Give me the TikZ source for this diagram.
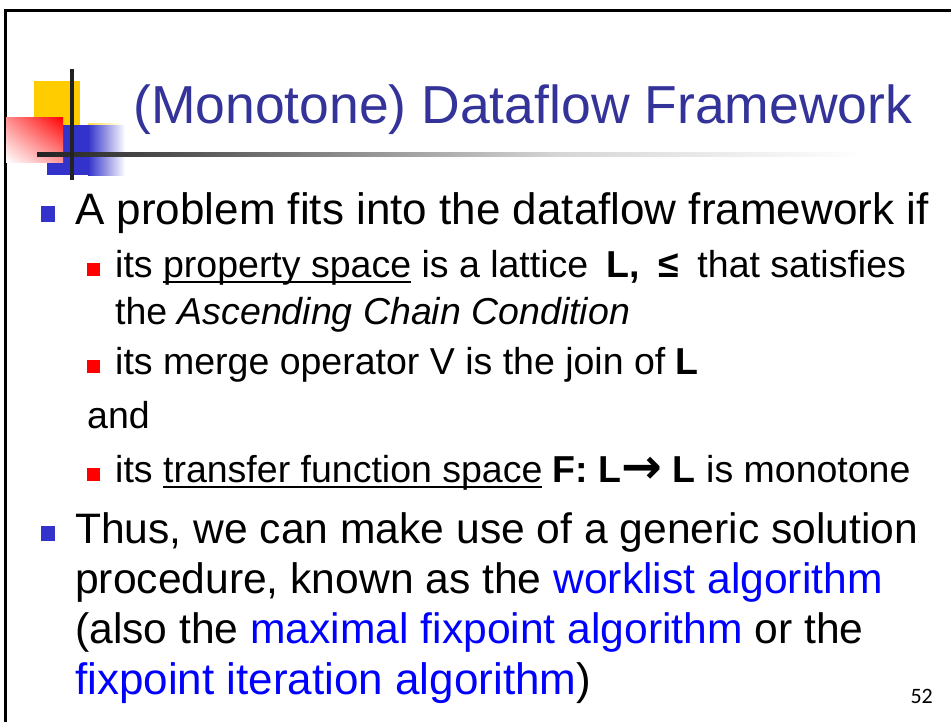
\documentclass[tikz,border=0pt]{standalone}
\usepackage{fontspec}
\usetikzlibrary{shadings}
\setmainfont{Liberation Sans}
\newfontfamily\numfont{Carlito}
\newfontfamily\arrowfont{DejaVu Sans}
\definecolor{titleblue}{HTML}{333399}
\definecolor{bulletblue}{HTML}{3333CC}
\definecolor{logoyellow}{HTML}{FFCC00}
\definecolor{logoblue}{HTML}{3333CC}
\definecolor{linkblue}{HTML}{0000FF}
\definecolor{bardark}{HTML}{222222}
\definecolor{barmid}{HTML}{D6D6D6}
% underline that cuts through descenders
\newcommand\ulword[1]{\setbox0\hbox{#1}\rlap{\rule[-0.15em]{\wd0}{0.05em}}#1}
% heavy arrow between the lattice names
\newcommand\heavyarrow{\raisebox{-0.04em}{\scalebox{1.3}{\arrowfont\bfseries →}}}
\tikzset{
  lineone/.style={anchor=base west, inner sep=0pt, font=\fontsize{44}{50}\selectfont},
  linethus/.style={anchor=base west, inner sep=0pt, font=\fontsize{42.6}{50}\selectfont},
  linetwo/.style={anchor=base west, inner sep=0pt, font=\fontsize{37.5}{45}\selectfont},
  titletext/.style={anchor=base west, inner sep=0pt, text=titleblue, font=\fontsize{53.5}{60}\selectfont},
  pagenum/.style={anchor=base east, inner sep=0pt, font=\numfont\fontsize{22}{24}\selectfont},
}
\begin{document}
\begin{tikzpicture}[x=1pt, y=-1pt]
\useasboundingbox (0,0) rectangle (951,721);
\begin{scope}
\clip (0,0) rectangle (951,721);
% slide frame
\draw[line width=3pt] (5,730) -- (5,10) -- (960,10);

% logo blocks
\fill[logoyellow] (34,81) rectangle (80,125);
\shade[left color=logoyellow!70, right color=white] (88,123) rectangle (122,125);
\fill[logoblue] (47,125) rectangle (88,175);
\shade[left color=logoblue, right color=white] (88,125) rectangle (125,175);
\shade[upper right=red, lower left=white, upper left=red!45, lower right=red!40] (6,117) rectangle (63,162);
% logo bars
\shade[left color=bardark, right color=barmid] (37,152) rectangle (560,156);
\shade[left color=barmid, right color=white] (560,152) rectangle (866,156);
\fill[bardark] (70,69) rectangle (74,180);
\end{scope}

% title
\node[titletext] (title) at (133,123) {(Monotone) Dataflow Framework};

% bullets
\fill[bulletblue] (41,206) rectangle (55,222);
\fill[red] (87,263) rectangle (100,276);
\fill[red] (87,360) rectangle (100,373);
\fill[red] (87,468) rectangle (100,481);
\fill[bulletblue] (41,526) rectangle (55,541);

% body text
\node[lineone] (p1) at (75,224) {A problem fits into the dataflow framework if};
\node[linetwo] (p2a) at (115,277) {its \ulword{property space} is a lattice\hspace{8pt} \textbf{L,}\hspace{8pt} \textbf{≤}\hspace{8pt} that satisfies};
\node[linetwo] (p2b) at (115,324) {the \textit{Ascending Chain Condition}};
\node[linetwo] (p3) at (115,374) {its merge operator V is the join of \textbf{L}};
\node[linetwo] (p4) at (87,428) {and};
\node[linetwo] (p5) at (115,482) {its \ulword{transfer function space} \textbf{F: L\heavyarrow\ L} is monotone};
\node[linethus] (q1) at (75,543) {Thus, we can make use of a generic solution};
\node[linethus] (q2) at (75,593) {procedure, known as the \textcolor{linkblue}{worklist algorithm}};
\node[linethus] (q3) at (75,643) {(also the \textcolor{linkblue}{maximal fixpoint algorithm} or the};
\node[lineone] (q4) at (75,694) {\textcolor{linkblue}{fixpoint iteration algorithm})};

% slide number
\node[pagenum] (num) at (933,703) {52};
\end{tikzpicture}
\end{document}
